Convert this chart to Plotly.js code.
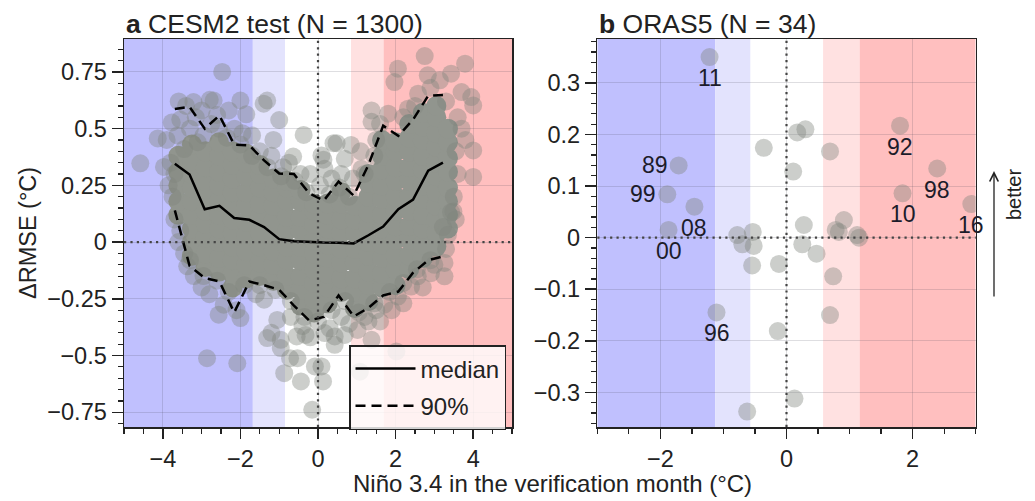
<!DOCTYPE html>
<html><head><meta charset="utf-8">
<script src="https://cdn.plot.ly/plotly-3.0.1.min.js"></script>
<style>html,body{margin:0;padding:0;background:#fff}#chart{width:1035px;height:501px}</style>
</head><body><div id="chart"></div>
<script>
// ---------- Panel a: CESM2 test (N = 1300) ----------
const binX   = [-3.69,-3.31,-2.92,-2.54,-2.16,-1.77,-1.39,-1.00,-0.62,-0.23,0.15,0.53,0.92,1.30,1.68,2.07,2.45,2.84,3.22];
const median = [0.345,0.298,0.145,0.160,0.106,0.098,0.066,0.013,0.004,0.000,-0.002,-0.003,-0.006,0.030,0.068,0.145,0.187,0.315,0.350];
const q95    = [0.586,0.596,0.500,0.558,0.429,0.426,0.360,0.302,0.300,0.215,0.183,0.267,0.205,0.340,0.513,0.468,0.540,0.645,0.648];
const q05    = [0.140,-0.105,-0.158,-0.174,-0.310,-0.174,-0.190,-0.210,-0.280,-0.345,-0.330,-0.235,-0.328,-0.290,-0.235,-0.218,-0.135,-0.080,-0.063];

// dense part of the cloud (between the 90% lines), read column by column
const denseColX = [-3.6,-3.25,-2.9,-2.55,-2.2,-1.85,-1.5,-1.15,-0.8,-0.45,-0.1,0.25,0.6,0.95,1.3,1.65,2.0,2.35,2.7,3.05,3.35];
const denseColY = [
  [0.12,0.18,0.25,0.31,0.38],
  [-0.06,0.0,0.06,0.12,0.18,0.24,0.3,0.36,0.43],
  [-0.11,-0.05,0.02,0.08,0.14,0.2,0.27,0.33,0.4],
  [-0.13,-0.07,0.0,0.06,0.12,0.18,0.25,0.31,0.38,0.44],
  [-0.2,-0.14,-0.08,-0.02,0.04,0.1,0.16,0.22,0.28,0.34,0.4],
  [-0.16,-0.1,-0.04,0.03,0.09,0.16,0.22,0.29,0.35,0.39],
  [-0.15,-0.09,-0.02,0.04,0.11,0.17,0.24,0.3,0.34],
  [-0.17,-0.1,-0.04,0.03,0.09,0.16,0.22,0.28],
  [-0.21,-0.15,-0.08,-0.02,0.05,0.11,0.18,0.24,0.27],
  [-0.28,-0.21,-0.15,-0.08,-0.02,0.05,0.11,0.18,0.23],
  [-0.31,-0.25,-0.18,-0.12,-0.05,0.01,0.08,0.14,0.17],
  [-0.27,-0.2,-0.14,-0.07,-0.01,0.06,0.12,0.17],
  [-0.22,-0.16,-0.09,-0.03,0.04,0.1,0.17,0.22],
  [-0.29,-0.22,-0.16,-0.09,-0.03,0.04,0.1,0.16],
  [-0.26,-0.19,-0.13,-0.06,0.0,0.07,0.13,0.2,0.26,0.3],
  [-0.2,-0.14,-0.07,-0.01,0.06,0.12,0.19,0.25,0.32,0.38,0.45],
  [-0.19,-0.12,-0.06,0.01,0.07,0.14,0.2,0.27,0.33,0.4,0.44],
  [-0.12,-0.06,0.01,0.07,0.14,0.2,0.27,0.33,0.4,0.46,0.52],
  [-0.07,-0.01,0.06,0.12,0.19,0.25,0.32,0.38,0.45,0.51,0.57],
  [-0.02,0.04,0.1,0.16,0.22,0.29,0.35,0.42,0.48,0.55,0.6],
  [0.06,0.12,0.18,0.24,0.31,0.37,0.44,0.5]
];

// sparse points outside the dense band
const sparsePts = [
  [-4.58,0.347],[-4.13,0.457],[-3.97,0.331],[-3.9,0.45],[-3.77,0.527],[-3.59,0.62],[-3.4,0.6],[-3.21,0.617],
  [-3.0,0.58],[-2.79,0.627],[-2.69,0.624],[-2.47,0.75],[-2.6,0.56],[-2.3,0.58],[-2.0,0.624],[-2.15,0.5],
  [-1.85,0.563],[-1.95,0.48],[-1.7,0.47],[-1.40,0.61],[-1.31,0.624],[-1.5,0.4],[-1.2,0.38],[-1.15,0.45],
  [-1.0,0.538],[-0.9,0.33],[-0.75,0.35],[-0.64,0.377],[-0.45,0.3],[-0.37,0.472],[-0.2,0.3],[0.09,0.382],
  [0.14,0.363],[0.17,0.323],[0.05,0.25],[0.4,0.436],[0.48,0.436],[0.35,0.28],[0.6,0.3],[0.69,0.367],
  [0.85,0.428],[0.9,0.28],[1.12,0.323],[1.1,0.4],
  [-3.62,0.47],[-3.55,0.54],[-3.3,0.5],[-3.15,0.55],[-2.95,0.47],[-2.75,0.52],[-2.55,0.5],[-2.35,0.46],
  [-3.45,0.41],[-3.1,0.44],[-2.0,0.43],[-1.7,0.38],[-1.3,0.33],[-0.95,0.29],[-0.6,0.27],[-0.3,0.22],
  [0.3,0.21],[0.55,0.24],[0.8,0.2],[1.2,0.3],[1.45,0.38],
  [1.38,0.58],[1.38,0.53],[1.5,0.45],[1.6,0.52],[1.81,0.566],[1.97,0.705],[2.06,0.764],[2.2,0.55],
  [2.32,0.588],[2.58,0.654],[2.5,0.6],[2.75,0.82],[2.83,0.735],[2.9,0.68],[3.14,0.713],[3.3,0.62],
  [3.43,0.742],[3.6,0.55],[3.70,0.661],[3.79,0.786],[3.95,0.639],[4.0,0.602],[3.7,0.5],[3.8,0.45],
  [4.0,0.404],[3.55,0.4],[3.6,0.3],[4.0,0.287],[3.5,0.2],[3.49,0.135],[3.43,0.132],[3.22,0.066],
  [3.35,0.032],[3.55,0.1],
  [-3.85,0.25],[-3.75,0.2],[-3.8,0.35],[-3.7,0.3],
  [-3.7,0.1],[-3.6,0.0],[-3.45,-0.05],[-3.37,-0.107],[-3.2,-0.15],[-3.0,-0.2],[-2.8,-0.23],[-2.56,-0.32],
  [-3.55,0.05],[-3.3,-0.08],[-2.95,-0.15],[-2.6,-0.17],[-2.3,-0.22],[-1.9,-0.19],[-1.5,-0.19],[-1.1,-0.21],
  [-0.7,-0.26],[-0.35,-0.33],[0.0,-0.35],[0.35,-0.3],[0.7,-0.26],[1.05,-0.31],[1.45,-0.27],[1.85,-0.22],
  [2.2,-0.18],[2.55,-0.12],[2.9,-0.08],[3.3,-0.03],
  [-2.43,-0.276],[-2.1,-0.3],[-2.0,-0.335],[-2.86,-0.512],[-2.08,-0.534],[-1.6,-0.23],[-1.39,-0.254],
  [-1.31,-0.423],[-1.2,-0.4],[-1.05,-0.343],[-0.96,-0.431],[-0.96,-0.467],[-0.87,-0.578],[-0.72,-0.512],
  [-0.7,-0.33],[-0.55,-0.416],[-0.53,-0.512],[-0.44,-0.614],[-0.4,-0.37],[-0.32,-0.409],[-0.2,-0.42],
  [-0.15,-0.739],[-0.08,-0.548],[0.09,-0.548],[0.13,-0.614],[0.17,-0.401],[0.3,-0.38],[0.43,-0.453],
  [0.43,-0.416],[0.6,-0.33],[0.69,-0.409],[0.8,-0.36],[1.02,-0.387],[1.08,-0.571],[1.2,-0.33],
  [1.38,-0.431],[1.3,-0.35],[1.5,-0.3],[1.6,-0.35],[1.71,-0.276],[1.9,-0.3],[2.02,-0.482],[2.06,-0.24],
  [2.2,-0.27],[2.40,-0.196],[2.57,-0.151],[2.7,-0.2],[2.91,-0.137],[3.0,-0.1],[3.26,-0.151],[3.26,-0.092]
];

// ---------- Panel b: ORAS5 (N = 34) ----------
const orasX = [-1.22,1.80,0.17,0.30,-0.36,0.69,-1.71,0.106,2.39,-1.89,1.84,-1.46,2.93,-1.87,0.275,0.91,0.78,
               0.83,1.12,1.15,-0.78,-0.535,-0.70,-0.52,0.25,0.476,-0.545,-0.12,0.74,-1.11,0.69,-0.138,0.127,-0.624];
const orasY = [0.350,0.217,0.204,0.210,0.174,0.167,0.140,0.128,0.134,0.084,0.086,0.060,0.065,0.015,0.0245,0.034,0.015,
               0.011,0.005,0.0,0.005,0.011,-0.013,-0.016,-0.013,-0.031,-0.054,-0.051,-0.075,-0.145,-0.150,-0.181,-0.312,-0.337];
const orasLabel = ['11','92','','','','','89','','98','99','10','08','16','00','','','',
                   '','','','','','','','','','','','','96','','','',''];

// background categories (Niño 3.4 thresholds)
const bandEdgesA = [-5,-1.68,-0.85,0.85,1.69,5];
const bandEdgesB = [-3,-1.13,-0.57,0.58,1.16,3];

// ---------- styles ----------
const FONT = 'Liberation Sans, Arial, Helvetica, sans-serif';
const INK = '#222';
const bandColors = ['rgb(192,192,254)','rgb(227,227,253)','rgb(255,255,255)','rgb(255,225,225)','rgb(255,191,191)'];
const markerGray = 'rgb(128,133,126)';

const denseX = [], denseY = [];
denseColX.forEach((cx,i)=>denseColY[i].forEach(v=>{denseX.push(cx); denseY.push(v);}));

const traces = [
  {x: denseX, y: denseY, type:'scatter', mode:'markers', xaxis:'x', yaxis:'y', showlegend:false, hoverinfo:'skip',
   marker:{size:20, color:'rgb(145,149,142)', opacity:1, line:{width:0}}},
  {x: sparsePts.map(p=>p[0]), y: sparsePts.map(p=>p[1]), type:'scatter', mode:'markers', xaxis:'x', yaxis:'y',
   showlegend:false, hoverinfo:'skip', marker:{size:18, color:markerGray, opacity:0.4, line:{width:0}}},
  {x: orasX, y: orasY, type:'scatter', mode:'markers', xaxis:'x2', yaxis:'y2', showlegend:false, hoverinfo:'skip',
   marker:{size:18, color:markerGray, opacity:0.4, line:{width:0}}},
  {x: binX, y: median, type:'scatter', mode:'lines', name:'median', legendgroup:'m', xaxis:'x', yaxis:'y',
   line:{color:'#000', width:2.5}},
  {x: binX.concat([null], binX), y: q95.concat([null], q05), type:'scatter', mode:'lines', name:'90%', legendgroup:'q',
   xaxis:'x', yaxis:'y', line:{color:'#000', width:2.5, dash:'10px,6px'}}
];

function bandShapes(edges, xr, yr){
  const s = [];
  for(let i=0;i<edges.length-1;i++){
    s.push({type:'rect', xref:xr, yref:yr+' domain', x0:edges[i], x1:edges[i+1], y0:0, y1:1,
            fillcolor:bandColors[i], line:{width:0}, layer:'below'});
  }
  return s;
}
function zeroLines(xr, yr){
  const st = {color:'#444', width:2.2, dash:'2.2px,4.2px'};
  return [
    {type:'line', xref:xr, yref:yr+' domain', x0:0, x1:0, y0:0, y1:1, line:st, layer:'above'},
    {type:'line', xref:xr+' domain', yref:yr, x0:0, x1:1, y0:0, y1:0, line:st, layer:'above'}
  ];
}

const tickFont = {family:FONT, size:23.5, color:INK};
function xAxis(domain, range, anchor){
  return {domain, range, anchor, dtick:2, tick0:0, ticks:'outside', ticklen:10, tickwidth:1.5, tickcolor:INK,
    minor:{dtick:0.5, tick0:0, ticks:'outside', ticklen:5, tickwidth:1.2, tickcolor:INK, showgrid:false},
    showline:true, mirror:true, linecolor:INK, linewidth:1.5, showgrid:true, gridcolor:'rgba(70,70,90,0.18)', gridwidth:1,
    zeroline:false, tickfont:tickFont, fixedrange:true};
}
function yAxis(domain, range, anchor, dtick, mdtick){
  return {domain, range, anchor, dtick, tick0:0, ticks:'outside', ticklen:11, tickwidth:1.5, tickcolor:INK,
    minor:{dtick:mdtick, tick0:0, ticks:'outside', ticklen:5, tickwidth:1.2, tickcolor:INK, showgrid:false},
    showline:true, mirror:true, linecolor:INK, linewidth:1.5, showgrid:true, gridcolor:'rgba(70,70,90,0.18)', gridwidth:1,
    zeroline:false, tickfont:tickFont, fixedrange:true};
}

const W = 1035, H = 501;
const yDom = [1-427/H, 1-39/H];

const annotations = [
  {xref:'paper', yref:'paper', x:124/W, y:1-24/H, xanchor:'left', yanchor:'middle', showarrow:false,
   text:'<b>a</b> CESM2 test (N = 1300)', font:{family:FONT, size:26.5, color:INK}},
  {xref:'paper', yref:'paper', x:597/W, y:1-24/H, xanchor:'left', yanchor:'middle', showarrow:false,
   text:'<b>b</b> ORAS5 (N = 34)', font:{family:FONT, size:26.5, color:INK}},
  {xref:'paper', yref:'paper', x:28/W, y:1-233/H, xanchor:'center', yanchor:'middle', showarrow:false, textangle:-90,
   text:'ΔRMSE (°C)', font:{family:FONT, size:23.5, color:INK}},
  {xref:'paper', yref:'paper', x:552/W, y:1-483/H, xanchor:'center', yanchor:'middle', showarrow:false,
   text:'Niño 3.4 in the verification month (°C)', font:{family:FONT, size:24, color:INK}},
  {xref:'paper', yref:'paper', x:1014/W, y:1-195/H, xanchor:'center', yanchor:'middle', showarrow:false, textangle:-90,
   text:'better', font:{family:FONT, size:20, color:INK}},
  {xref:'paper', yref:'paper', x:994/W, y:1-171/H, ax:0, ay:127, axref:'pixel', ayref:'pixel', text:'', showarrow:true,
   arrowhead:5, arrowsize:1.3, arrowwidth:1.3, arrowcolor:INK}
];
const leftSide = ['89','99'];
orasLabel.forEach((lab,i)=>{
  if(!lab) return;
  const left = leftSide.includes(lab);
  annotations.push({xref:'x2', yref:'y2', x:orasX[i], y:orasY[i], text:lab, showarrow:false,
    xanchor:'center', yanchor:'middle', xshift: left ? -24 : 0, yshift: left ? 0 : -21,
    font:{family:FONT, size:23, color:'#1c1c2a'}});
});

const layout = {
  width:W, height:H, margin:{l:0,r:0,t:0,b:0}, paper_bgcolor:'#fff', plot_bgcolor:'#fff',
  font:{family:FONT, color:INK},
  xaxis: xAxis([124/W, 512/W], [-5,5], 'y'),
  yaxis: yAxis(yDom, [-0.815,0.895], 'x', 0.25, 0.05),
  xaxis2: xAxis([597.3/W, 975.7/W], [-3,3], 'y2'),
  yaxis2: yAxis(yDom, [-0.367,0.385], 'x2', 0.1, 0.02),
  showlegend:true,
  legend:{x:349/W, y:1-345/H, xanchor:'left', yanchor:'top', bgcolor:'rgba(255,255,255,0.8)', bordercolor:INK,
          borderwidth:1.5, font:{family:FONT, size:24, color:INK}, itemwidth:60, traceorder:'grouped', tracegroupgap:3},
  shapes: [].concat(bandShapes(bandEdgesA,'x','y'), bandShapes(bandEdgesB,'x2','y2'), zeroLines('x','y'), zeroLines('x2','y2')),
  annotations
};

Plotly.newPlot('chart', traces, layout, {staticPlot:true, displayModeBar:false});
</script></body></html>
